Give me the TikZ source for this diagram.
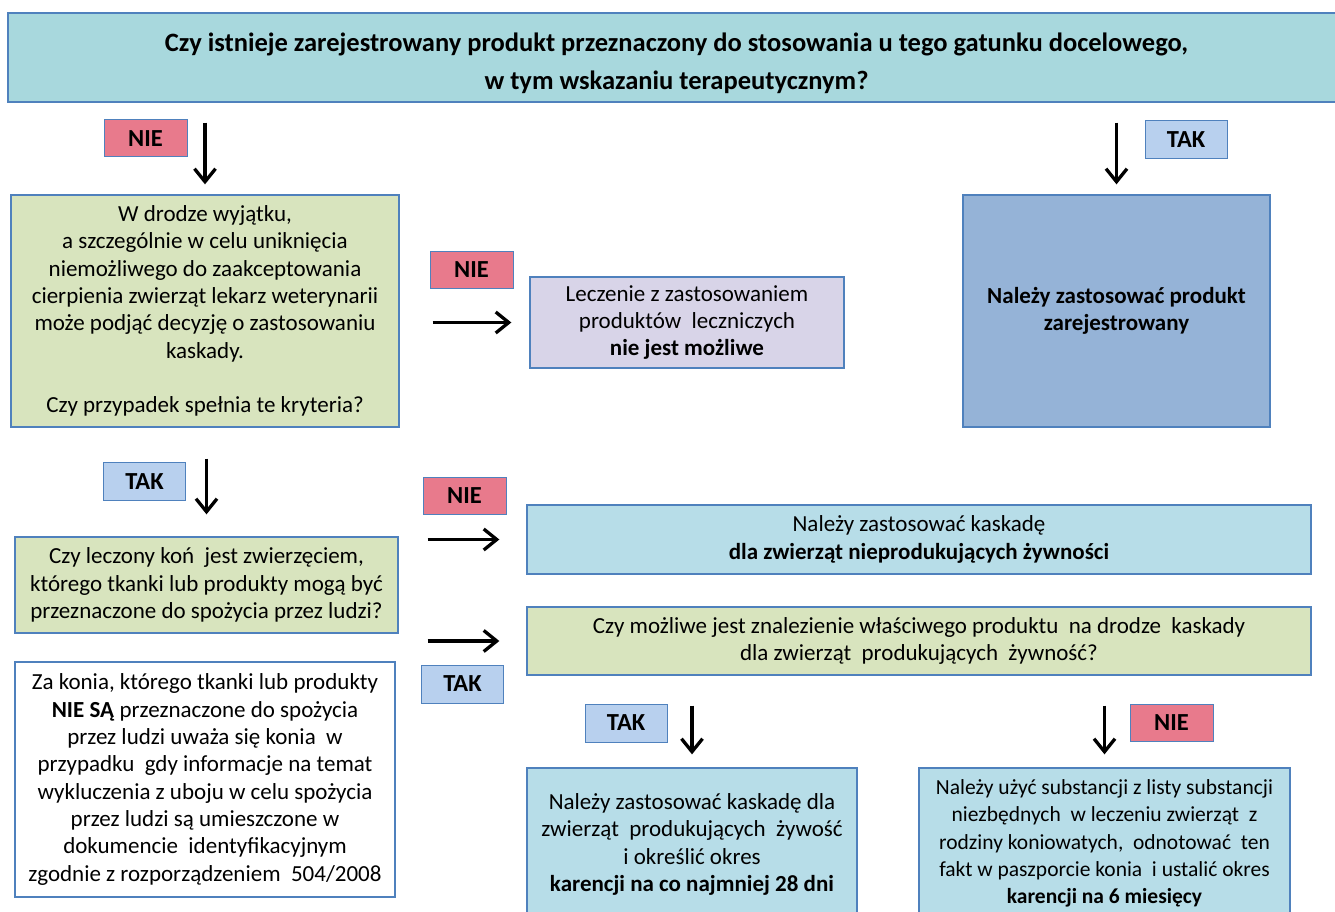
\documentclass[tikz,border=0pt]{standalone}
\usepackage{fontspec}
\setmainfont{Carlito}
\usetikzlibrary{arrows.meta}
\definecolor{titlefill}{RGB}{168,216,221}
\definecolor{greenfill}{RGB}{216,228,190}
\definecolor{lavfill}{RGB}{216,212,232}
\definecolor{bluefill}{RGB}{149,179,215}
\definecolor{lbluefill}{RGB}{183,221,232}
\definecolor{niefill}{RGB}{232,122,140}
\definecolor{takfill}{RGB}{184,208,238}
\definecolor{edge}{RGB}{79,129,189}
\tikzset{
  x=1pt, y=-1pt,
  box/.style={draw=edge, line width=1.3pt, align=center, inner sep=0pt,
    font=\fontsize{23}{27.3}\selectfont},
  lbl/.style={draw=edge, line width=1pt, inner sep=0pt,
    font=\bfseries\fontsize{24.5}{26}\selectfont},
  nielbl/.style={lbl, fill=niefill, minimum width=83pt, minimum height=37pt},
  taklbl/.style={lbl, fill=takfill, minimum width=82pt, minimum height=38pt},
  arr/.style={line width=3.3pt, -{Straight Barb[length=13pt,width=21pt,line width=3.3pt]}}
}
\begin{document}
\begin{tikzpicture}
\useasboundingbox (0,0) rectangle (1335,912);
\begin{scope}
\clip (0,0) rectangle (1335,912);
\fill[white] (0,0) rectangle (1335,912);

\node[box, fill=titlefill, minimum width=1337pt, minimum height=89pt,
  font=\bfseries\fontsize{26.5}{38}\selectfont] (title) at (676.5,57.5)
  {\rule{0pt}{30pt}Czy istnieje zarejestrowany produkt przeznaczony do stosowania u tego gatunku docelowego,\\
   w tym wskazaniu terapeutycznym?};

\node[nielbl] (nie1) at (145.5,138.5) {NIE};
\node[box, fill=greenfill, minimum width=388pt, minimum height=232pt] (g1) at (205,311)
  {W drodze wyjątku,\\
   a szczególnie w celu uniknięcia\\
   niemożliwego do zaakceptowania\\
   cierpienia zwierząt lekarz weterynarii\\
   może podjąć decyzję o zastosowaniu\\
   kaskady.\\[27.3pt]
   Czy przypadek spełnia te kryteria?};

\node[nielbl] (nie2) at (471.5,270) {NIE};
\node[box, fill=lavfill, minimum width=314pt, minimum height=91pt] (p1) at (687,322.5)
  {Leczenie z zastosowaniem\\
   produktów\ \ leczniczych\\
   \textbf{nie jest możliwe}};

\node[taklbl] (tak1) at (1186,139.5) {TAK};
\node[box, fill=bluefill, minimum width=307pt, minimum height=232pt,
  font=\bfseries\fontsize{23}{27.3}\selectfont] (b1) at (1116.5,311)
  {Należy zastosować produkt\\ zarejestrowany};

\node[taklbl] (tak2) at (144.5,481.5) {TAK};
\node[box, fill=greenfill, minimum width=383pt, minimum height=96pt] (g2) at (206.5,585)
  {Czy leczony koń\ \ jest zwierzęciem,\\
   którego tkanki lub produkty mogą być\\
   przeznaczone do spożycia przez ludzi?};

\node[nielbl] (nie3) at (464.5,496) {NIE};
\node[box, fill=lbluefill, minimum width=784pt, minimum height=69pt] (nk) at (919,539.5)
  {Należy zastosować kaskadę\\
   \textbf{dla zwierząt nieprodukujących żywności}};

\node[box, fill=greenfill, minimum width=784pt, minimum height=68pt] (cm) at (919,641)
  {Czy możliwe jest znalezienie właściwego produktu\ \ na drodze\ \ kaskady\\
   dla zwierząt\ \ produkujących\ \ żywność?};
\node[taklbl] (tak3) at (462.5,684) {TAK};

\node[box, fill=white, minimum width=380pt, minimum height=235pt] (wb) at (205,779.5)
  {Za konia, którego tkanki lub produkty\\
   \textbf{NIE SĄ} przeznaczone do spożycia\\
   przez ludzi uważa się konia\ \ w\\
   przypadku\ \ gdy informacje na temat\\
   wykluczenia z uboju w celu spożycia\\
   przez ludzi są umieszczone w\\
   dokumencie\ \ identyfikacyjnym\\
   zgodnie z rozporządzeniem\ \ 504/2008};

\node[taklbl] (tak4) at (626,723) {TAK};
\node[nielbl] (nie4) at (1171.5,723) {NIE};

\node[box, fill=lbluefill, minimum width=330pt, minimum height=153pt] (bl) at (692,844.5)
  {Należy zastosować kaskadę dla\\
   zwierząt\ \ produkujących\ \ żywość\\
   i określić okres\\
   \textbf{karencji na co najmniej 28 dni}};
\node[box, fill=lbluefill, minimum width=371pt, minimum height=151pt,
  font=\fontsize{21.5}{27.3}\selectfont] (br) at (1104.5,843.5)
  {Należy użyć substancji z listy substancji\\
   niezbędnych\ \ w leczeniu zwierząt\ \ z\\
   rodziny koniowatych,\ \ odnotować\ \ ten\\
   fakt w paszporcie konia\ \ i ustalić okres\\
   \textbf{karencji na 6 miesięcy}};

\draw[arr, shorten <=20pt, shorten >=10pt] (title.south -| g1.north) -- (g1.north);
\draw[arr, shorten <=20pt, shorten >=10pt] (title.south -| b1.north) -- (b1.north);
\draw[arr, shorten <=33pt, shorten >=18pt] (g1.east |- p1.west) -- (p1.west);
\draw[arr, shorten <=31pt, shorten >=22pt] (g1.south -| g2.north) -- (g2.north);
\draw[arr, shorten <=29pt, shorten >=27pt] (g2.east |- nk.west) -- (nk.west);
\draw[arr, shorten <=29pt, shorten >=27pt] (g2.east |- cm.west) -- (cm.west);
\draw[arr, shorten <=30pt, shorten >=13pt] (cm.south -| bl.north) -- (bl.north);
\draw[arr, shorten <=30pt, shorten >=13pt] (cm.south -| br.north) -- (br.north);
\end{scope}
\end{tikzpicture}
\end{document}
